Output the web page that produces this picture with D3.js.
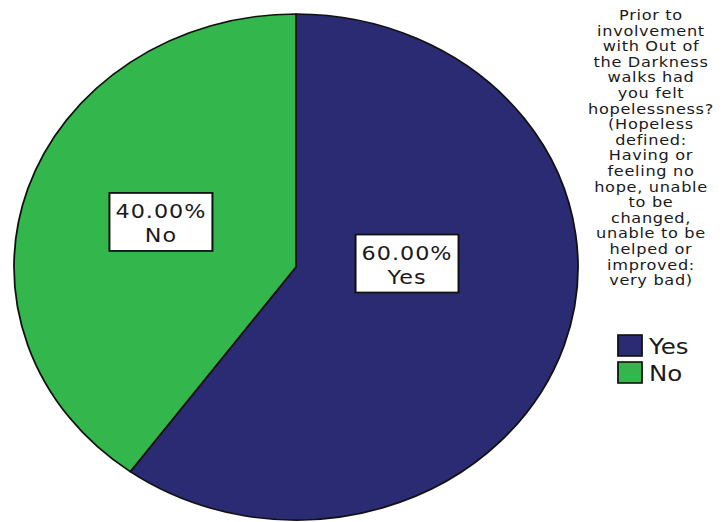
<!DOCTYPE html>
<html>
<head>
<meta charset="utf-8">
<script src="https://cdn.jsdelivr.net/npm/d3@7"></script>
<style>
  html, body { margin: 0; padding: 0; background: #fff; }
  svg { display: block; }
  text { font-family: "DejaVu Sans", sans-serif; fill: #1a1a1a; }
</style>
</head>
<body>
<svg id="chart" width="723" height="522"></svg>
<script>
// Survey responses
const categories = ["Yes", "No"];
const percents = [60, 40];
const colors = ["#2b2b73", "#33b64b"];
const legendTitle = [
  "Prior to", "involvement", "with Out of", "the Darkness", "walks had",
  "you felt", "hopelessness?", "(Hopeless", "defined:", "Having or",
  "feeling no", "hope, unable", "to be", "changed,", "unable to be",
  "helped or", "improved:", "very bad)"
];

const W = 723, H = 522;
const sx = 1.1146;              // horizontal stretch of the whole figure
const R = 253;
const cx = 296 / sx, cy = 267;

const svg = d3.select("#chart");
const g = svg.append("g").attr("transform", `scale(${sx},1)`);

const pie = d3.pie().sort(null).value(d => d.value);
const data = pie(categories.map((c, i) => ({ name: c, value: percents[i] })));
const arc = d3.arc().innerRadius(0).outerRadius(R);

const pieG = g.append("g").attr("transform", `translate(${cx},${cy})`);
pieG.selectAll("path.slice")
  .data(data)
  .join("path")
  .attr("class", "slice")
  .attr("d", arc)
  .attr("fill", (d, i) => colors[i])
  .attr("stroke", "#111")
  .attr("stroke-width", 1.6)
  .attr("stroke-linejoin", "round");

// label anchors: angle (radians, clockwise from top) and radius fraction
const labelAnchor = [
  { angle: 88 * Math.PI / 180, r: 0.394 },
  { angle: 290.4 * Math.PI / 180, r: 0.511 }
];
const boxW = 92.4, boxH = 58;
const labels = pieG.selectAll("g.lbl")
  .data(data)
  .join("g")
  .attr("class", "lbl")
  .attr("transform", (d, i) => {
    const [x, y] = d3.pointRadial(labelAnchor[i].angle, labelAnchor[i].r * R);
    return `translate(${x},${y})`;
  });
labels.append("rect")
  .attr("x", -boxW / 2).attr("y", -boxH / 2)
  .attr("width", boxW).attr("height", boxH)
  .attr("fill", "#fff")
  .attr("stroke", "#111")
  .attr("stroke-width", 1.8);
labels.append("text")
  .attr("text-anchor", "middle")
  .attr("y", -4)
  .style("font-size", "20px")
  .style("letter-spacing", "0.9px")
  .text(d => d3.format(".2f")(d.data.value) + "%");
labels.append("text")
  .attr("text-anchor", "middle")
  .attr("y", 20)
  .style("font-size", "20px")
  .style("letter-spacing", "0.9px")
  .text(d => d.data.name);

// Legend
const lx = 651 / sx;
const legend = g.append("g");
legend.selectAll("text.title")
  .data(legendTitle)
  .join("text")
  .attr("class", "title")
  .attr("x", lx)
  .attr("y", (d, i) => 20 + i * 15.6)
  .attr("text-anchor", "middle")
  .style("font-size", "14.5px")
  .style("letter-spacing", "0.6px")
  .text(d => d);

const items = legend.selectAll("g.item")
  .data(categories)
  .join("g")
  .attr("class", "item")
  .attr("transform", (d, i) => `translate(${618 / sx},${335 + i * 27})`);
items.append("rect")
  .attr("width", 24 / sx).attr("height", 21)
  .attr("fill", (d, i) => colors[i])
  .attr("stroke", "#111")
  .attr("stroke-width", 1.6);
items.append("text")
  .attr("x", 31 / sx)
  .attr("y", 19)
  .style("font-size", "22px")
  .text(d => d);
</script>
</body>
</html>
